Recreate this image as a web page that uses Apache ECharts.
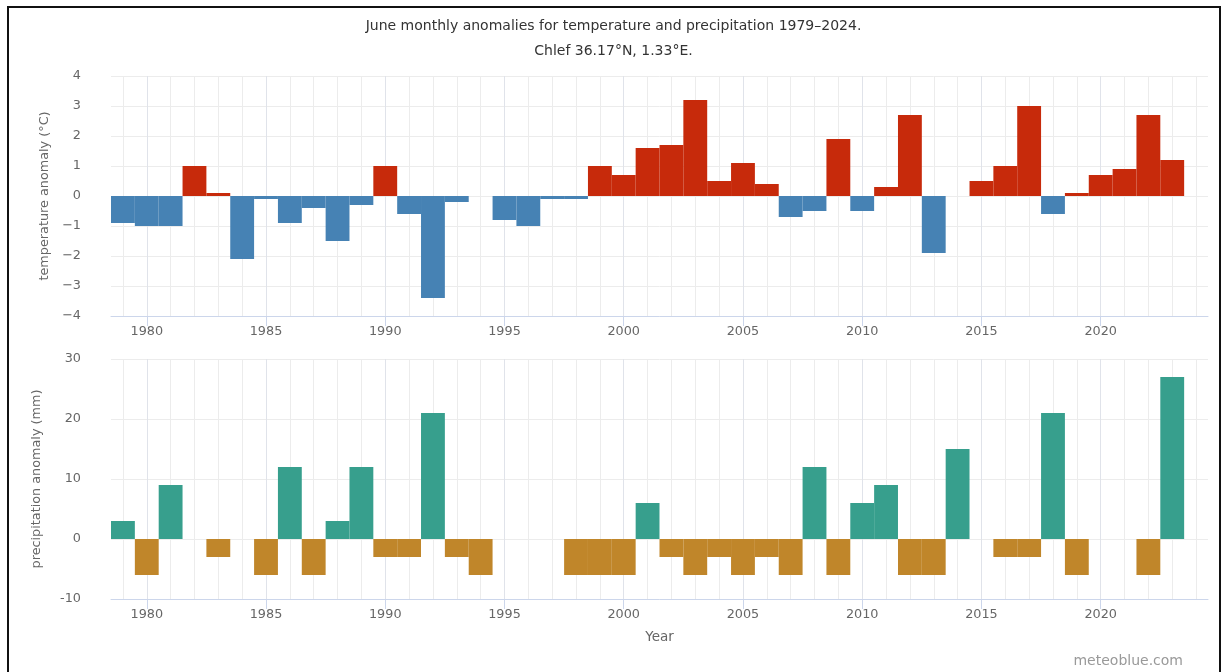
<!DOCTYPE html>
<html>
<head>
<meta charset="utf-8">
<script src="https://cdn.jsdelivr.net/npm/echarts@6/dist/echarts.min.js"></script>
<style>
  html, body { margin: 0; padding: 0; background: #fff; }
  #chart { width: 1227px; height: 672px; }
</style>
</head>
<body>
<div id="chart"></div>
<script>
// June anomalies, Chlef 1979–2024
const years = [];
for (let y = 1979; y <= 2024; y++) years.push(String(y));

// temperature anomaly (°C), 1979..2024 (null = no bar)
const temperature = [
  -0.9, -1.0, -1.0, 1.0, 0.1, -2.1, -0.1, -0.9, -0.4, -1.5,
  -0.3, 1.0, -0.6, -3.4, -0.2, null, -0.8, -1.0, -0.1, -0.1,
  1.0, 0.7, 1.6, 1.7, 3.2, 0.5, 1.1, 0.4, -0.7, -0.5,
  1.9, -0.5, 0.3, 2.7, -1.9, null, 0.5, 1.0, 3.0, -0.6,
  0.1, 0.7, 0.9, 2.7, 1.2, null
];

// precipitation anomaly (mm), 1979..2024 (null = no bar)
const precipitation = [
  3, -6, 9, null, -3, null, -6, 12, -6, 3,
  12, -3, -3, 21, -3, -6, null, null, null, -6,
  -6, -6, 6, -3, -6, -3, -6, -3, -6, 12,
  -6, 6, 9, -6, -6, 15, null, -3, -3, 21,
  -6, null, null, -6, 27, null
];

const tempTicks = [-4, -3, -2, -1, 0, 1, 2, 3, 4];
const precTicks = [-10, 0, 10, 20, 30];

const COLORS = {
  warm: '#c72a0b',
  cold: '#4682b4',
  wet: '#379f8d',
  dry: '#c0862a'
};

const FONT = '"DejaVu Sans", Verdana, sans-serif';
const gridLight = '#ececec';
const gridMajor = '#e0e3ea';
const axisColor = '#ccd6eb';

const isFive = (idx, val) => Number(val) % 5 === 0;

function xAxisFor(gridIndex, withName) {
  return {
    type: 'category',
    gridIndex,
    data: years,
    boundaryGap: true,
    axisLine: { show: true, onZero: false, lineStyle: { color: axisColor, width: 1 } },
    axisTick: { show: true, alignWithLabel: true, interval: isFive, length: 10, lineStyle: { color: axisColor } },
    axisLabel: { interval: isFive, color: '#666', fontFamily: FONT, fontSize: 12.8, margin: 9 },
    splitLine: {
      show: true, alignWithLabel: true, interval: 0,
      lineStyle: { color: [gridLight, gridMajor, gridLight, gridLight, gridLight], width: 1 }
    },
    name: withName ? 'Year' : '',
    nameLocation: 'middle',
    nameGap: 31,
    nameTextStyle: { color: '#666', fontFamily: FONT, fontSize: 13.5 }
  };
}

function yAxisFor(gridIndex, ticks, name, nameGap, minusSign) {
  return {
    type: 'value',
    gridIndex,
    min: ticks[0],
    max: ticks[ticks.length - 1],
    interval: ticks[1] - ticks[0],
    axisLine: { show: false },
    axisTick: { show: false },
    axisLabel: {
      color: '#666', fontFamily: FONT, fontSize: 12.8, margin: 30,
      formatter: v => minusSign ? String(v).replace('-', '\u2212') : String(v)
    },
    splitLine: { show: true, lineStyle: { color: gridLight, width: 1 } },
    name,
    nameLocation: 'middle',
    nameGap,
    nameRotate: 90,
    nameTextStyle: { color: '#666', fontFamily: FONT, fontSize: 12.8 }
  };
}

const chart = echarts.init(document.getElementById('chart'), null, { renderer: 'canvas' });

chart.setOption({
  animation: false,
  backgroundColor: '#fff',
  title: [
    {
      text: 'June monthly anomalies for temperature and precipitation 1979\u20132024.',
      left: 'center', top: 14,
      textStyle: { color: '#333', fontFamily: FONT, fontSize: 14, fontWeight: 'normal' }
    },
    {
      text: 'Chlef 36.17°N, 1.33°E.',
      left: 'center', top: 39,
      textStyle: { color: '#333', fontFamily: FONT, fontSize: 14, fontWeight: 'normal' }
    }
  ],
  grid: [
    { left: 111, right: 19, top: 76, height: 240 },
    { left: 111, right: 19, top: 359, height: 240 }
  ],
  xAxis: [xAxisFor(0, false), xAxisFor(1, true)],
  yAxis: [
    yAxisFor(0, tempTicks, 'temperature anomaly (°C)', 58, true),
    yAxisFor(1, precTicks, 'precipitation anomaly (mm)', 68, false)
  ],
  series: [
    {
      type: 'bar',
      name: 'temperature anomaly',
      xAxisIndex: 0, yAxisIndex: 0,
      data: temperature,
      barCategoryGap: '0%',
      itemStyle: { color: p => (p.value >= 0 ? COLORS.warm : COLORS.cold) }
    },
    {
      type: 'bar',
      name: 'precipitation anomaly',
      xAxisIndex: 1, yAxisIndex: 1,
      data: precipitation,
      barCategoryGap: '0%',
      itemStyle: { color: p => (p.value >= 0 ? COLORS.wet : COLORS.dry) }
    }
  ],
  graphic: [
    {
      type: 'rect',
      shape: { x: 8, y: 7, width: 1212, height: 700 },
      style: { fill: 'none', stroke: '#111', lineWidth: 2 },
      silent: true
    },
    {
      type: 'text',
      right: 44, top: 654,
      style: { text: 'meteoblue.com', fill: '#999', font: '14px ' + FONT }
    }
  ]
});
</script>
</body>
</html>
